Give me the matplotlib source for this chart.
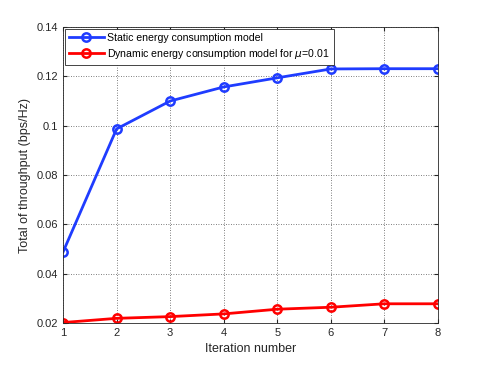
import matplotlib
matplotlib.use("Agg")
import matplotlib.pyplot as plt

iterations = [1, 2, 3, 4, 5, 6, 7, 8]
static_model = [0.0488, 0.0987, 0.1100, 0.1157, 0.1194, 0.1230, 0.1231, 0.1231]
dynamic_model = [0.0202, 0.0219, 0.0226, 0.0237, 0.0256, 0.0264, 0.0278, 0.0278]
yticks = [0.02, 0.04, 0.06, 0.08, 0.1, 0.12, 0.14]
ytick_labels = ["0.02", "0.04", "0.06", "0.08", "0.1", "0.12", "0.14"]

plt.rcParams["font.family"] = ["Liberation Sans", "DejaVu Sans"]
plt.rcParams["font.size"] = 8

fig = plt.figure(figsize=(4.85, 3.65), dpi=100)
ax = fig.add_axes([0.130, 0.115, 0.773, 0.811])

ax.plot(iterations, static_model, color="#1f3cff", lw=2, marker="o", ms=6,
        mfc="none", mew=1.8, label="Static energy consumption model")
ax.plot(iterations, dynamic_model, color="#ff0000", lw=2, marker="o", ms=6,
        mfc="none", mew=1.8, label=r"Dynamic energy consumption model for $\mu$=0.01")

ax.set_xlim(1, 8)
ax.set_ylim(0.02, 0.14)
ax.set_xticks(iterations)
ax.set_yticks(yticks)
ax.set_yticklabels(ytick_labels)
ax.tick_params(direction="in", length=3, colors="#262626", labelsize=8, top=True, right=True)
ax.grid(True, linestyle=(0, (1, 2)), color="#555555", lw=0.6)
for s in ax.spines.values():
    s.set_color("#262626")
    s.set_linewidth(0.6)

ax.set_xlabel("Iteration number", fontsize=9, color="#262626")
ax.set_ylabel("Total of throughput (bps/Hz)", fontsize=9, color="#262626")

leg = ax.legend(loc="upper left", fontsize=7.6, fancybox=False, framealpha=1,
                edgecolor="#262626", borderpad=0.4, labelspacing=0.4,
                handlelength=3.3, handletextpad=0.3, borderaxespad=0.15)
leg.get_frame().set_linewidth(0.6)

fig.savefig("out.png", dpi=100)
